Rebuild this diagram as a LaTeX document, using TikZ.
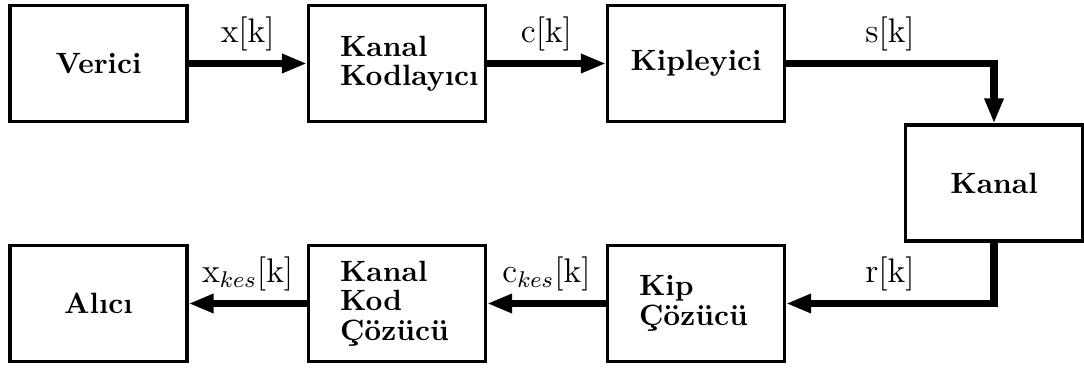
\documentclass[tikz,border=0pt]{standalone}
\usetikzlibrary{arrows.meta}
\begin{document}
\begin{tikzpicture}[x=0.3509pt,y=-0.3509pt,
  blk/.style={draw, line width=1.2pt, minimum width=62pt, minimum height=40.6pt,
    inner sep=0pt, font=\fontsize{10.3}{10.3}\selectfont\bfseries},
  blkl/.style={blk, align=left, text width=40pt},
  sig/.style={line width=2.7pt, -{Triangle[length=8.8pt,width=6.3pt]}},
  lbl/.style={font=\fontsize{11.5}{13}\selectfont, inner sep=0pt, above=3pt}]
\useasboundingbox (0,0) rectangle (1084,369);
\node[blk]  (ver)  at (98.5,63.5) {Verici};
\node[blkl] (kk)   at (397,63.5)  {Kanal\\Kodlayıcı};
\node[blk]  (kip)  at (696,63.5)  {Kipleyici};
\node[blk]  (kan)  at (994,183)   {Kanal};
\node[blkl] (kipc) at (696,303.5) {Kip\\Çözücü};
\node[blkl] (kkc)  at (397,303.5) {Kanal\\Kod\\Çözücü};
\node[blk]  (alc)  at (98.5,303.5) {Alıcı};
\draw[sig] (ver) -- node[lbl]{$\mathrm{x}[\mathrm{k}]$} (kk);
\draw[sig] (kk) -- node[lbl]{$\mathrm{c}[\mathrm{k}]$} (kip);
\draw[sig] (kip.east) -| node[pos=0.25,lbl]{$\mathrm{s}[\mathrm{k}]$} (kan.north);
\draw[sig] (kan.south) |- node[pos=0.75,lbl]{$\mathrm{r}[\mathrm{k}]$} (kipc.east);
\draw[sig] (kipc) -- node[lbl]{$\mathrm{c}_{kes}[\mathrm{k}]$} (kkc);
\draw[sig] (kkc) -- node[lbl]{$\mathrm{x}_{kes}[\mathrm{k}]$} (alc);
\end{tikzpicture}
\end{document}
